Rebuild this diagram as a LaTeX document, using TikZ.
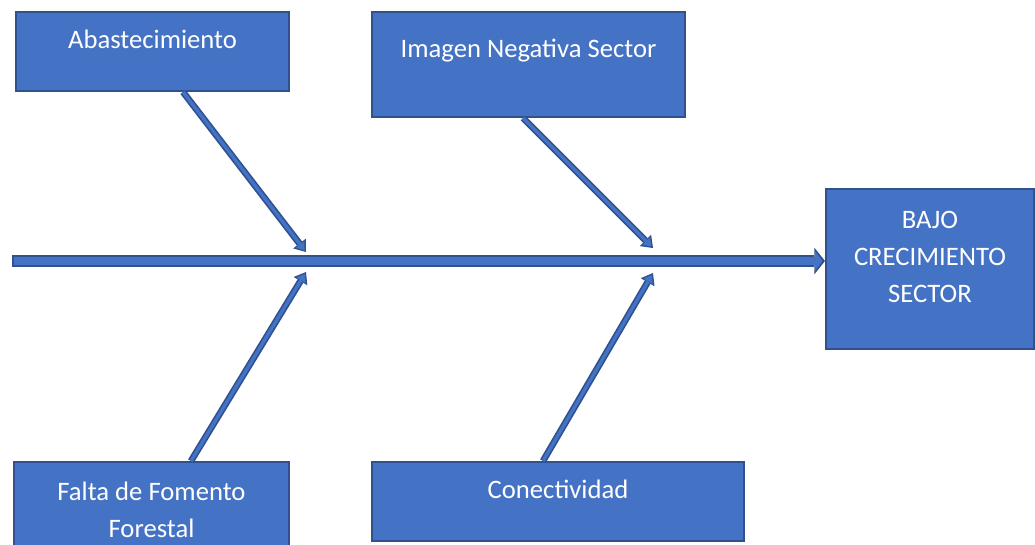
\documentclass[tikz,border=0pt]{standalone}
\usepackage{fontspec}
\setmainfont{Carlito}
\usepackage{xcolor}
\usetikzlibrary{arrows.meta, positioning}
\definecolor{boxblue}{HTML}{4472C4}
\definecolor{boxline}{HTML}{2F528F}

\begin{document}
\begin{tikzpicture}[x=0.75pt, y=-0.75pt, every node/.style={font=\fontsize{20}{27.75}\selectfont}]
    \tikzstyle{box} = [rectangle, draw=boxline, fill=boxblue, line width=1.5pt, anchor=north west, inner sep=0pt]
    \tikzstyle{boxtext} = [text=white, align=center, anchor=north, inner sep=0pt, execute at begin node=\strut]
    \tikzstyle{spine} = [line width=9pt, draw=boxline, -{Triangle[length=8pt, width=20pt, line width=0pt]},
        postaction={draw=boxblue, line width=6pt, shorten <=1.5pt, shorten >=2pt, -{Triangle[length=5.5pt, width=15pt, line width=0pt]}}]
    \tikzstyle{bone} = [line width=5pt, draw=boxline, -{Triangle[length=8pt, width=12pt, line width=0pt]},
        postaction={draw=boxblue, line width=2.5pt, shorten >=1.8pt, -{Triangle[length=5.4pt, width=8pt, line width=0pt]}}]

    \useasboundingbox (0,0) rectangle (1035,544);

    % causes
    \node[box, minimum width=204.75pt, minimum height=59.25pt, label={[boxtext, yshift=-8.3pt]north:Abastecimiento}] (abast) at (15,11) {};
    \node[box, minimum width=234.75pt, minimum height=78.75pt, label={[boxtext, yshift=-15.1pt]north:Imagen Negativa Sector}] (imagen) at (371,11) {};
    \node[box, minimum width=206.25pt, minimum height=67.5pt, label={[boxtext, yshift=-15.6pt]north:Falta de Fomento\\Forestal}] (falta) at (13,461) {};
    \node[box, minimum width=279pt, minimum height=59.25pt, label={[boxtext, yshift=-8.3pt]north:Conectividad}] (conect) at (371,461) {};
    % effect
    \node[box, minimum width=156pt, minimum height=120pt, label={[boxtext, yshift=-16.9pt]north:BAJO\\CRECIMIENTO\\SECTOR}] (bajo) at (825,188) {};

    \coordinate (tail) at (12,261);
    \coordinate (jab) at (306,252);
    \coordinate (jim) at (653,248);
    \coordinate (jfa) at (306,272);
    \coordinate (jco) at (653,273);

    \draw[spine] (tail) -- (bajo.west |- tail);
    \draw[bone] ([xshift=22.9pt]abast.south) -- (jab);
    \draw[bone] ([xshift=-4.1pt]imagen.south) -- (jim);
    \draw[bone] ([xshift=29.6pt]falta.north) -- (jfa);
    \draw[bone] ([xshift=-11.25pt]conect.north) -- (jco);
\end{tikzpicture}
\end{document}
